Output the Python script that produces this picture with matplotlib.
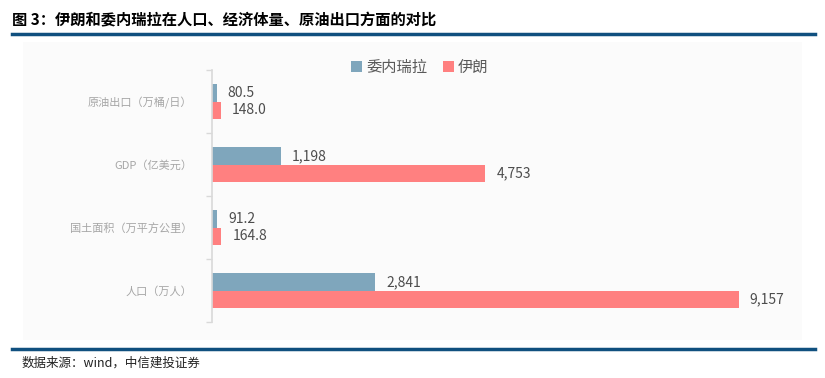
import matplotlib.pyplot as plt
from matplotlib.patches import Rectangle
from matplotlib.ticker import FixedLocator

plt.rcParams['font.family'] = ['Noto Sans CJK SC', 'DejaVu Sans']

# data
categories = ['原油出口（万桶/日）', 'GDP（亿美元）', '国土面积（万平方公里）', '人口（万人）']
venezuela = [80.5, 1198, 91.2, 2841]
iran = [148.0, 4753, 164.8, 9157]
venezuela_labels = ['80.5', '1,198', '91.2', '2,841']
iran_labels = ['148.0', '4,753', '164.8', '9,157']

c_ven = '#7fa6bc'
c_iran = '#ff8080'

fig = plt.figure(figsize=(8.25, 3.78), dpi=100)

# light background box behind chart
bg = Rectangle((23 / 825, 1 - 340 / 378), (802 - 23) / 825, (340 - 42) / 378,
               transform=fig.transFigure, facecolor='#fbfbfb', edgecolor='none', zorder=-10)
fig.patches.append(bg)

# title and rules
fig.text(12 / 825, 1 - 20 / 378, '图 3：伊朗和委内瑞拉在人口、经济体量、原油出口方面的对比',
         fontsize=11, fontweight='bold', va='center', ha='left', color='black')
fig.add_artist(plt.Line2D([12 / 825, 815 / 825], [1 - 34 / 378, 1 - 34 / 378],
                          color='#10507f', lw=2.5, transform=fig.transFigure))
fig.add_artist(plt.Line2D([12 / 825, 815 / 825], [1 - 349 / 378, 1 - 349 / 378],
                          color='#10507f', lw=2.5, transform=fig.transFigure))
fig.text(22 / 825, 1 - 363 / 378, '数据来源：wind，中信建投证券', fontsize=9, style='italic',
         va='center', ha='left', color='#222222')

ax = fig.add_axes([212 / 825, 1 - 322 / 378, 575 / 825, (322 - 70) / 378])
ax.set_facecolor('none')
ax.set_zorder(1)

n = len(categories)
pos = list(range(n))
h = 0.27
ax.barh([p - h / 2 for p in pos], venezuela, height=h, color=c_ven, label='委内瑞拉')
ax.barh([p + h / 2 for p in pos], iran, height=h, color=c_iran, label='伊朗')

for p, v, s in zip(pos, venezuela, venezuela_labels):
    ax.annotate(s, (v, p - h / 2), xytext=(8, 0), textcoords='offset points',
                va='center', ha='left', fontsize=10, color='#4d4d4d')
for p, v, s in zip(pos, iran, iran_labels):
    ax.annotate(s, (v, p + h / 2), xytext=(8, 0), textcoords='offset points',
                va='center', ha='left', fontsize=10, color='#4d4d4d')

ax.set_xlim(0, 10000)
ax.set_ylim(n - 0.5, -0.5)
ax.set_xticks([])
ax.set_yticks(pos)
ax.set_yticklabels(categories, fontsize=8, color='#a6a6a6')
ax.tick_params(axis='y', which='major', length=0, pad=14)
ax.yaxis.set_minor_locator(FixedLocator([p - 0.5 for p in range(n + 1)]))
ax.tick_params(axis='y', which='minor', length=4, color='#d9d9d9', width=1)
for s in ['top', 'right', 'bottom']:
    ax.spines[s].set_visible(False)
ax.spines['left'].set_color('#d9d9d9')
ax.spines['left'].set_linewidth(1.2)

fig.legend(loc='center', bbox_to_anchor=(420 / 825, 1 - 67 / 378), ncol=2, frameon=False,
           fontsize=11, handlelength=0.7, handleheight=0.7, handletextpad=0.3, columnspacing=1.0,
           labelcolor='#595959')

fig.savefig('out.png', dpi=100)
